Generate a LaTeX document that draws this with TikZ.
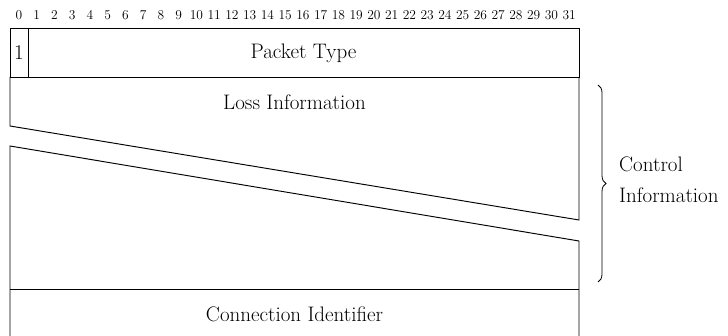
\documentclass[tikz,border=0pt]{standalone}
\usetikzlibrary{decorations.pathreplacing}
\begin{document}
\begin{tikzpicture}[x=1pt,y=-1pt,
  frame/.style={line width=0.95pt,black},
  field/.style={font=\fontsize{21}{24}\selectfont,inner sep=0pt},
  bitnum/.style={font=\fontsize{13.5}{15}\selectfont,inner sep=0pt,anchor=base},
  side/.style={font=\fontsize{21}{31}\selectfont,inner sep=0pt,align=left,anchor=west}]
\useasboundingbox (0,0) rectangle (728,336);

% bit positions 0..31 across the word
\foreach \i in {0,...,31}
  \node[bitnum] (b\i) at ({10+17.75*(\i+0.5)},20) {\i};

% first word: flag bit and packet type
\draw[frame] (10,28) rectangle (579,77);
\draw[frame] (28,28) -- (28,77);
\node[field] (flag) at (19,53) {1};
\node[field] (ptype) at (303.5,53) {Packet Type};

% control information, broken by a diagonal cut
\draw[frame] (10,77) -- (10,126) -- (579,220) -- (579,77);
\draw[frame] (10,336) -- (10,146) -- (579,241) -- (579,336);
\node[field] (loss) at (294.5,102) {Loss Information};

% last word: connection identifier
\draw[frame] (10,289) -- (579,289);
\node[field] (conn) at (294.5,314) {Connection Identifier};

% brace grouping the control information
\coordinate (bt) at (598,85);
\coordinate (bb) at (598,282);
\draw[line width=0.8pt,decorate,decoration={brace,amplitude=8pt}] (bt) -- (bb);
\node[side] (ctl) at (619,180) {Control\\Information};
\end{tikzpicture}
\end{document}
